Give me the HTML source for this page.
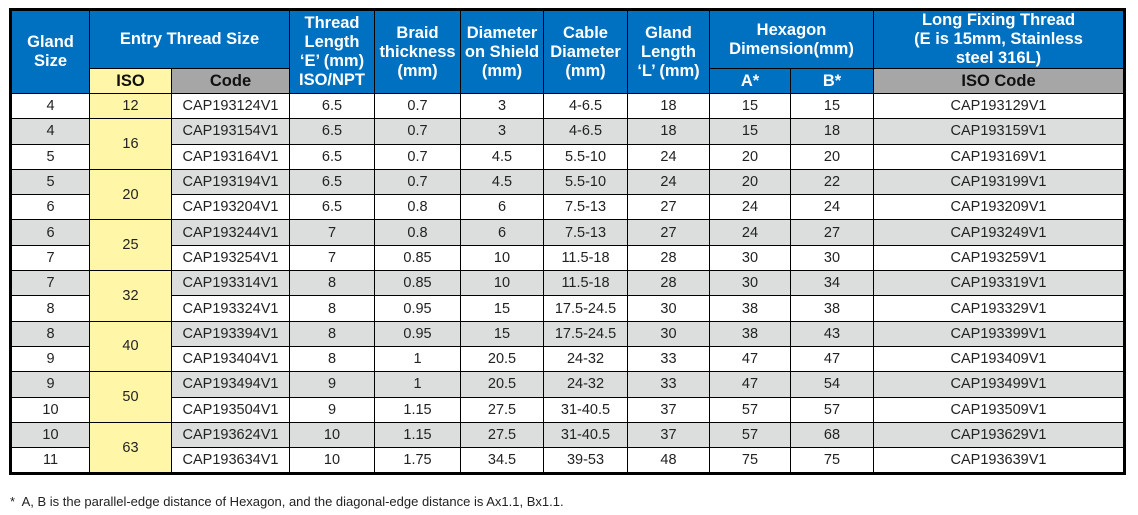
<!DOCTYPE html>
<html><head><meta charset="utf-8"><style>
body{margin:0;width:1138px;height:515px;background:#fff;position:relative;overflow:hidden;font-family:"Liberation Sans",sans-serif}
table{position:absolute;left:9px;top:8px;border-collapse:collapse;table-layout:fixed;border:3px solid #000}
td,th{border:1px solid #000;text-align:center;padding:0;overflow:hidden}
th{background:#0070c0;color:#fff;font-weight:bold;font-size:16.5px;line-height:19px}
th.iso{background:#fff6a8;color:#111}
th.code{background:#a6a6a6;color:#111}
td{font-size:14.5px;color:#222;height:24.3px;line-height:16px}
tr.g td{background:#dcdedd}
td.y{background:#fff6a8 !important}
#note{position:absolute;left:10px;top:494px;font-size:13px;color:#222}
</style></head><body>
<table>
<colgroup><col style="width:79px"><col style="width:82px"><col style="width:118px"><col style="width:85px"><col style="width:86px"><col style="width:83px"><col style="width:84px"><col style="width:82px"><col style="width:81px"><col style="width:83px"><col style="width:251px"></colgroup>
<thead>
<tr style="height:55px">
<th rowspan="2">Gland<br>Size</th>
<th colspan="2">Entry Thread Size</th>
<th rowspan="2">Thread<br>Length<br>‘E’ (mm)<br>ISO/NPT</th>
<th rowspan="2">Braid<br>thickness<br>(mm)</th>
<th rowspan="2">Diameter<br>on Shield<br>(mm)</th>
<th rowspan="2">Cable<br>Diameter<br>(mm)</th>
<th rowspan="2">Gland<br>Length<br>‘L’ (mm)</th>
<th colspan="2">Hexagon<br>Dimension(mm)</th>
<th>Long Fixing Thread<br>(E is 15mm, Stainless<br>steel 316L)</th>
</tr>
<tr style="height:25px">
<th class="iso">ISO</th>
<th class="code">Code</th>
<th>A*</th>
<th>B*</th>
<th class="code">ISO Code</th>
</tr>
</thead>
<tbody id="tb"></tbody>
</table>
<div id="note">*&nbsp; A, B is the parallel-edge distance of Hexagon, and the diagonal-edge distance is Ax1.1, Bx1.1.</div>
<script>
const glandSizes=["4","4","5","5","6","6","7","7","8","8","9","9","10","10","11"];
const isoSizes=["12","16","16","20","20","25","25","32","32","40","40","50","50","63","63"];
const codes=["CAP193124V1","CAP193154V1","CAP193164V1","CAP193194V1","CAP193204V1","CAP193244V1","CAP193254V1","CAP193314V1","CAP193324V1","CAP193394V1","CAP193404V1","CAP193494V1","CAP193504V1","CAP193624V1","CAP193634V1"];
const threadLen=["6.5","6.5","6.5","6.5","6.5","7","7","8","8","8","8","9","9","10","10"];
const braid=["0.7","0.7","0.7","0.7","0.8","0.8","0.85","0.85","0.95","0.95","1","1","1.15","1.15","1.75"];
const shield=["3","3","4.5","4.5","6","6","10","10","15","15","20.5","20.5","27.5","27.5","34.5"];
const cable=["4-6.5","4-6.5","5.5-10","5.5-10","7.5-13","7.5-13","11.5-18","11.5-18","17.5-24.5","17.5-24.5","24-32","24-32","31-40.5","31-40.5","39-53"];
const glandLen=["18","18","24","24","27","27","28","28","30","30","33","33","37","37","48"];
const hexA=["15","15","20","20","24","24","30","30","38","38","47","47","57","57","75"];
const hexB=["15","18","20","22","24","27","30","34","38","43","47","54","57","68","75"];
const isoCodes=["CAP193129V1","CAP193159V1","CAP193169V1","CAP193199V1","CAP193209V1","CAP193249V1","CAP193259V1","CAP193319V1","CAP193329V1","CAP193399V1","CAP193409V1","CAP193499V1","CAP193509V1","CAP193629V1","CAP193639V1"];
const tb=document.getElementById('tb');
function cell(tr,txt,name){const td=document.createElement('td');td.textContent=txt;


tr.appendChild(td);return td;}
for(let i=0;i<glandSizes.length;i++){
 const tr=document.createElement('tr');
 
 
 if(i%2===1)tr.className='g';
 cell(tr,glandSizes[i],'gland-size-cell');
 if(i===0||isoSizes[i]!==isoSizes[i-1]){
  let span=1;while(i+span<isoSizes.length&&isoSizes[i+span]===isoSizes[i])span++;
  const td=cell(tr,isoSizes[i],'iso-size-cell');td.rowSpan=span;td.className='y';
 }
 cell(tr,codes[i],'code-cell');
 cell(tr,threadLen[i],'thread-length-cell');
 cell(tr,braid[i],'braid-thickness-cell');
 cell(tr,shield[i],'diameter-on-shield-cell');
 cell(tr,cable[i],'cable-diameter-cell');
 cell(tr,glandLen[i],'gland-length-cell');
 cell(tr,hexA[i],'hex-a-cell');
 cell(tr,hexB[i],'hex-b-cell');
 cell(tr,isoCodes[i],'iso-code-cell');
 tb.appendChild(tr);
}
</script>
</body></html>
